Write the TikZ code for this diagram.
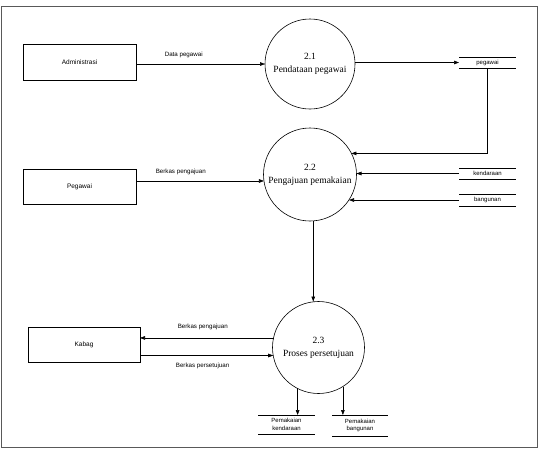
\documentclass[tikz,border=0pt]{standalone}
\usepackage{fontspec}
\setmainfont{Liberation Serif}
\newfontfamily\lsans{Liberation Sans}
\usetikzlibrary{arrows.meta,calc}
\begin{document}
\begin{tikzpicture}[x=1pt,y=-1pt,
  every node/.style={inner sep=0pt,outer sep=0pt},
  ent/.style={draw,line width=0.6pt,font=\lsans\fontsize{6.5}{7.5}\selectfont},
  proc/.style={draw,circle,line width=0.6pt,align=center,font=\fontsize{9.5}{13}\selectfont},
  store/.style={font=\lsans\fontsize{6}{7.5}\selectfont,align=center},
  lbl/.style={font=\lsans\fontsize{6.2}{7}\selectfont},
  arr/.style={line width=0.6pt,-{Triangle[length=5pt,width=3.6pt]}}]
\useasboundingbox (0,0) rectangle (540,451);
\draw[line width=1pt,black!65] (1,6) rectangle (537,447);
% externals
\node[ent,minimum width=113pt,minimum height=36pt] (adm) at (79.5,62) {Administrasi};
\node[ent,minimum width=113pt,minimum height=35pt] (pg) at (79.5,186.5) {Pegawai};
\node[ent,minimum width=112pt,minimum height=35pt] (kb) at (84,344.5) {Kabag};
% processes
\node[proc,minimum size=90pt] (c21) at (310,64) {2.1\\Pendataan pegawai};
\node[proc,minimum size=93pt] (c22) at (310,174.5) {2.2\\Pengajuan pemakaian};
\node[proc,minimum size=92pt] (c23) at (318.5,347.5) {2.3\\Proses persetujuan};
% stores
\node[store,minimum width=57pt,minimum height=11pt] (ps) at (487.5,62.5) {pegawai};
\node[store,minimum width=57pt,minimum height=11pt] (ks) at (487.5,173.5) {kendaraan};
\node[store,minimum width=57pt,minimum height=12pt] (bs) at (487.5,200) {bangunan};
\node[store,minimum width=57pt,minimum height=19pt] (pk) at (286.5,424.5) {Pemakaian\\kendaraan};
\node[store,minimum width=56pt,minimum height=21pt] (pb) at (360,425.5) {Pemakaian\\bangunan};
\foreach \s in {ps,ks,bs,pk,pb}{
  \draw[line width=0.6pt] (\s.north west) -- (\s.north east);
  \draw[line width=0.6pt] (\s.south west) -- (\s.south east);
}
% flows
\draw[arr] (adm.east |- c21.west) -- node[lbl,above=6pt,pos=0.37]{Data pegawai} (c21.west);
\draw[arr] (c21.east |- ps.west) -- (ps.west);
\draw[arr] (ps.south) |- (c22.27.5);
\draw[arr] (ks.west) -- (ks.west -| c22.east);
\draw[arr] (bs.west) -- (bs.west -| c22.-33);
\draw[arr] (pg.east |- c22.188) -- node[lbl,above=6pt,pos=0.35]{Berkas pengajuan} (c22.188);
\draw[arr] (c22.-86) -- (c22.-86 |- c23.north);
\draw[arr] (c23.168) -- node[lbl,above=8pt,pos=0.53]{Berkas pengajuan} (c23.168 -| kb.east);
\draw[arr] (kb.east |- c23.190) -- node[lbl,below=8pt,pos=0.47]{Berkas persetujuan} (c23.190);
\draw[arr] (c23.243.5) -- (c23.243.5 |- pk.north);
\draw[arr] (c23.-58) -- (c23.-58 |- pb.north);
\end{tikzpicture}
\end{document}
